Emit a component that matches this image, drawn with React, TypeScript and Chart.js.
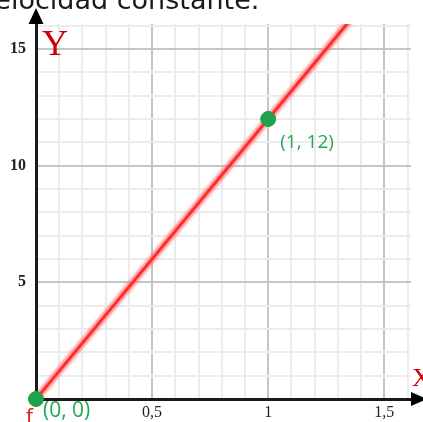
import React, { useEffect, useRef } from "react";
import { Chart, registerables } from "chart.js";

Chart.register(...registerables);

const lineX = [0, 1, 1.5];
const lineY = [0, 12, 18];
const pointX = [0, 1];
const pointY = [0, 12];
const pointLabels = ["(0, 0)", "(1, 12)"];
const xTickLabels: Record<string, string> = { "0.5": "0,5", "1": "1", "1.5": "1,5" };
const yTickLabels: Record<string, string> = { "5": "5", "10": "10", "15": "15" };
const titleText = "Velocidad constante.";

const X_MIN = 0;
const X_MAX = 1.615;
const Y_MIN = 0;
const Y_MAX = 16.07;

const isMult = (v: number, step: number) => Math.abs(v / step - Math.round(v / step)) < 1e-6;
const keyOf = (v: number) => String(Math.round(v * 10) / 10);

const decorPlugin = {
  id: "decor",
  beforeDatasetsDraw(chart: any) {
    const { ctx, chartArea } = chart;
    const { left, right, top, bottom } = chartArea;
    ctx.save();
    ctx.fillStyle = "#000";
    ctx.beginPath();
    ctx.moveTo(left - 7.5, top);
    ctx.lineTo(left + 7.5, top);
    ctx.lineTo(left, top - 16);
    ctx.closePath();
    ctx.fill();
    ctx.beginPath();
    ctx.moveTo(right, bottom - 7);
    ctx.lineTo(right, bottom + 7);
    ctx.lineTo(right + 16, bottom);
    ctx.closePath();
    ctx.fill();
    ctx.restore();
  },
  beforeDatasetDraw(chart: any, args: any) {
    if (args.index === 1) {
      const ctx = chart.ctx;
      ctx.save();
      ctx.shadowColor = "rgba(255,70,70,0.9)";
      ctx.shadowBlur = 5;
    }
  },
  afterDatasetDraw(chart: any, args: any) {
    if (args.index === 1) chart.ctx.restore();
  },
  afterDraw(chart: any) {
    const { ctx, chartArea, scales } = chart;
    const { left, right, top, bottom } = chartArea;
    ctx.save();
    ctx.fillStyle = "#1a1a1a";
    ctx.font = "27px 'DejaVu Sans'";
    ctx.textBaseline = "alphabetic";
    ctx.textAlign = "left";
    ctx.fillText(titleText, -22, 9);
    ctx.fillStyle = "#cc0000";
    ctx.font = "36px 'Liberation Serif'";
    ctx.fillText("Y", left + 6, top + 31);
    ctx.font = "26px 'Liberation Serif'";
    ctx.fillText("X", right + 1, bottom - 13);
    ctx.fillStyle = "#e02020";
    ctx.font = "20px 'DejaVu Sans'";
    ctx.fillText("f", left - 10, bottom + 24);
    ctx.fillStyle = "#22a854";
    const fonts = ["21px 'Open Sans'", "19px 'Open Sans'"];
    const offs = [
      [7, 18],
      [12, 29],
    ];
    pointX.forEach((px, i) => {
      const x = scales.x.getPixelForValue(px);
      const y = scales.y.getPixelForValue(pointY[i]);
      ctx.font = fonts[i];
      ctx.fillText(pointLabels[i], x + offs[i][0], y + offs[i][1]);
    });
    ctx.restore();
  },
};

export default function App() {
  const ref = useRef<HTMLCanvasElement>(null);
  useEffect(() => {
    document.body.style.margin = "0";
    const canvas = ref.current!;
    const chart = new Chart(canvas, {
      type: "scatter",
      data: {
        datasets: [
          {
            type: "line",
            data: lineX.map((x, i) => ({ x, y: lineY[i] })),
            borderColor: "rgba(255,130,130,0.35)",
            borderWidth: 8,
            pointRadius: 0,
            order: 3,
          },
          {
            type: "line",
            data: lineX.map((x, i) => ({ x, y: lineY[i] })),
            borderColor: "#ff2e2e",
            borderWidth: 3,
            pointRadius: 0,
            order: 2,
          },
          {
            data: pointX.map((x, i) => ({ x, y: pointY[i] })),
            backgroundColor: "#1ea24b",
            borderColor: "#1ea24b",
            pointRadius: 7.5,
            pointHoverRadius: 7.5,
            clip: false,
            order: 1,
          } as any,
        ],
      },
      options: {
        responsive: false,
        animation: false,
        events: [],
        layout: { padding: { top: 24, right: 12, left: 0, bottom: 0 } },
        plugins: { legend: { display: false }, tooltip: { enabled: false }, title: { display: false } },
        scales: {
          x: {
            type: "linear",
            min: X_MIN,
            max: X_MAX,
            afterFit: (s: any) => {
              s.height = 23;
            },
            border: { display: true, color: "#1a1a1a", width: 3 },
            grid: {
              drawTicks: false,
              lineWidth: 2,
              color: (c: any) => (c.tick && isMult(c.tick.value, 0.5) ? "#c6c6c6" : "#ececec"),
            },
            ticks: {
              stepSize: 0.1,
              includeBounds: false,
              autoSkip: false,
              maxRotation: 0,
              padding: 4,
              color: "#222",
              font: { family: "'Liberation Serif'", size: 16 },
              callback: (v: any) => (isMult(Number(v), 0.5) && xTickLabels[keyOf(Number(v))]) || "",
            },
          },
          y: {
            type: "linear",
            min: Y_MIN,
            max: Y_MAX,
            afterFit: (s: any) => {
              s.width = 36;
            },
            border: { display: true, color: "#1a1a1a", width: 3 },
            grid: {
              drawTicks: false,
              lineWidth: 2,
              color: (c: any) => (c.tick && isMult(c.tick.value, 5) ? "#c6c6c6" : "#ececec"),
            },
            ticks: {
              stepSize: 1,
              includeBounds: false,
              autoSkip: false,
              padding: 10,
              color: "#222",
              font: { family: "'Liberation Serif'", size: 16, weight: "bold" },
              callback: (v: any) => yTickLabels[String(v)] || "",
            },
          },
        },
      },
      plugins: [decorPlugin],
    });
    return () => chart.destroy();
  }, []);
  return (
    <div style={{ width: 423, height: 422 }}>
      <canvas ref={ref} width={423} height={422} style={{ display: "block" }} />
    </div>
  );
}
